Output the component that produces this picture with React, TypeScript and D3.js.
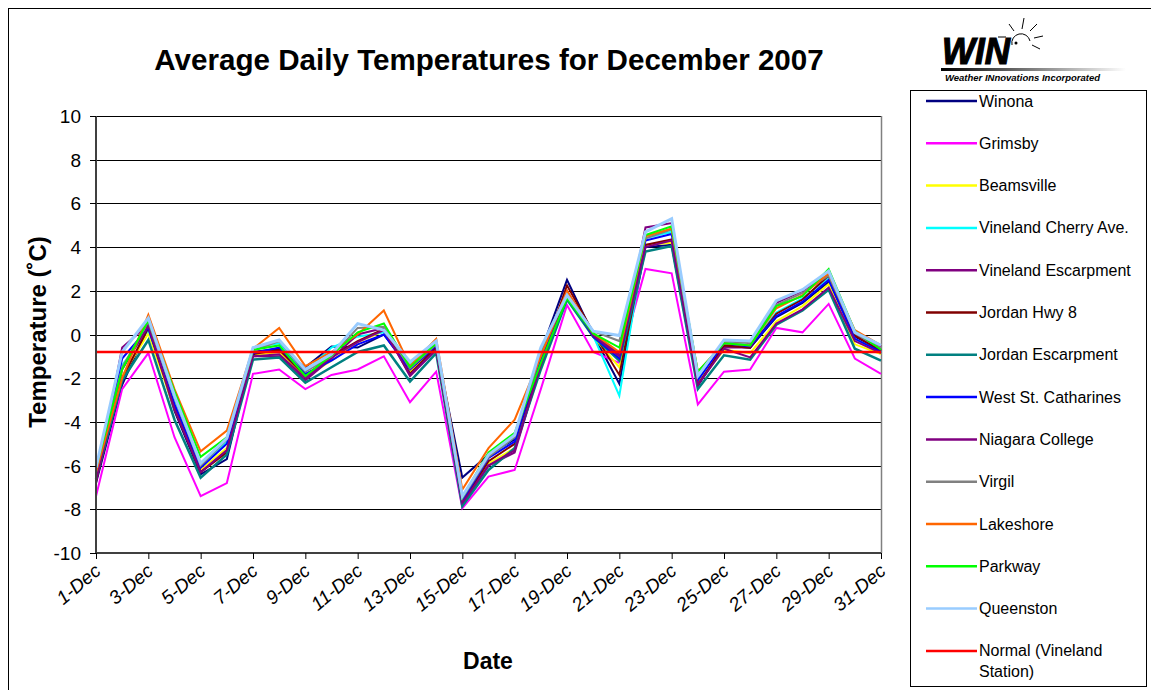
import React from "react";
import * as d3 from "d3";

const dayLabels = [
  "1-Dec","2-Dec","3-Dec","4-Dec","5-Dec","6-Dec","7-Dec","8-Dec","9-Dec","10-Dec",
  "11-Dec","12-Dec","13-Dec","14-Dec","15-Dec","16-Dec","17-Dec","18-Dec","19-Dec","20-Dec",
  "21-Dec","22-Dec","23-Dec","24-Dec","25-Dec","26-Dec","27-Dec","28-Dec","29-Dec","30-Dec","31-Dec",
];
const yTicks = [10, 8, 6, 4, 2, 0, -2, -4, -6, -8, -10];

const winona = [-6.8,-2.3,0.35,-3.5,-6.4,-5.7,-0.8,-0.65,-1.5,-0.55,-0.6,0.0,-1.6,-0.55,-6.55,-5.5,-4.8,-0.8,2.5,0.0,-2.25,4.0,4.1,-2.35,-0.5,-0.6,0.8,1.45,2.4,-0.1,-0.7];
const grimsby = [-7.4,-2.5,-0.85,-4.7,-7.4,-6.8,-1.8,-1.6,-2.5,-1.85,-1.6,-1.0,-3.1,-1.7,-7.95,-6.5,-6.2,-2.5,1.35,-0.8,-1.3,3.0,2.8,-3.2,-1.7,-1.6,0.3,0.1,1.4,-1.1,-1.8];
const beamsville = [-6.6,-1.9,0.05,-3.4,-6.2,-5.2,-0.95,-0.8,-1.95,-1.2,-0.35,0.15,-1.7,-0.65,-7.6,-5.9,-5.2,-1.4,1.7,-0.1,-1.5,4.1,4.2,-2.2,-0.7,-0.85,0.6,1.3,2.3,-0.45,-0.9];
const vinelandCherry = [-6.4,-1.4,0.2,-3.0,-6.0,-4.9,-0.6,-0.4,-1.7,-0.6,-0.1,0.1,-1.35,-0.4,-7.5,-5.6,-4.7,-0.8,1.75,-0.05,-2.8,4.4,4.7,-2.0,-0.3,-0.5,1.0,1.65,2.6,-0.2,-0.8];
const vinelandEscarpment = [-6.8,-0.6,0.45,-3.3,-6.3,-5.3,-1.0,-1.0,-2.1,-1.1,0.0,0.3,-1.9,-0.7,-7.8,-6.0,-5.4,-1.4,2.0,0.0,-0.9,4.9,5.1,-2.3,-0.6,-0.6,1.45,2.0,2.75,0.0,-0.55];
const jordanHwy8 = [-6.7,-2.0,0.3,-3.4,-6.3,-5.4,-0.9,-0.7,-1.9,-1.0,-0.3,0.25,-1.8,-0.6,-7.7,-5.8,-5.0,-1.2,2.25,0.1,-1.85,4.1,4.35,-2.3,-0.5,-0.6,0.95,1.6,2.7,-0.05,-0.75];
const jordanEscarpment = [-6.6,-2.1,-0.25,-3.9,-6.55,-5.5,-1.15,-1.05,-2.2,-1.5,-0.8,-0.5,-2.15,-0.85,-7.85,-6.2,-5.2,-1.6,1.6,-0.1,-1.2,3.8,4.05,-2.5,-0.95,-1.15,0.45,1.1,2.05,-0.65,-1.2];
const westStCatharines = [-6.5,-1.1,0.3,-3.2,-6.1,-5.0,-0.85,-0.6,-1.8,-1.2,-0.45,0.0,-1.6,-0.5,-7.6,-5.65,-4.9,-1.1,1.85,-0.1,-1.1,4.3,4.6,-2.1,-0.4,-0.55,0.85,1.5,2.5,-0.2,-0.8];
const niagaraCollege = [-6.7,-1.6,0.4,-3.4,-6.3,-5.3,-1.0,-0.9,-2.0,-1.05,-0.35,0.2,-1.85,-0.7,-7.7,-6.0,-5.3,-1.4,1.9,-0.05,-1.0,4.0,4.3,-2.3,-0.65,-1.05,0.5,1.15,2.15,-0.3,-0.85];
const virgil = [-6.3,-1.5,0.6,-2.9,-6.0,-4.8,-0.75,-0.3,-1.7,-1.0,0.3,0.35,-1.55,-0.45,-7.5,-5.6,-4.7,-0.9,1.9,0.15,-0.3,4.4,4.8,-1.9,-0.3,-0.4,1.35,1.9,2.7,0.05,-0.65];
const lakeshore = [-6.3,-2.0,0.9,-2.5,-5.35,-4.4,-0.65,0.3,-1.45,-0.8,0.0,1.1,-1.45,-0.2,-7.1,-5.2,-3.9,-1.0,2.0,0.05,-0.8,4.5,4.85,-1.7,-0.4,-0.5,1.2,1.8,2.8,0.2,-0.5];
const parkway = [-6.1,-1.6,0.65,-2.6,-5.6,-4.7,-0.7,-0.5,-1.9,-0.95,0.1,0.5,-1.5,-0.4,-7.45,-5.4,-4.5,-1.3,1.65,0.05,-0.6,4.55,4.95,-1.7,-0.4,-0.5,1.3,1.75,3.0,0.15,-0.7];
const queenston = [-6.1,-0.8,0.75,-2.8,-5.9,-4.75,-0.6,-0.25,-1.6,-0.9,0.5,0.2,-1.25,-0.3,-7.4,-5.5,-4.6,-0.6,1.8,0.15,-0.05,4.7,5.3,-1.9,-0.25,-0.3,1.55,2.05,2.9,0.1,-0.5];
const normal = [-0.8,-0.8,-0.8,-0.8,-0.8,-0.8,-0.8,-0.8,-0.8,-0.8,-0.8,-0.8,-0.8,-0.8,-0.8,-0.8,-0.8,-0.8,-0.8,-0.8,-0.8,-0.8,-0.8,-0.8,-0.8,-0.8,-0.8,-0.8,-0.8,-0.8,-0.8];

const seriesNames = [
  "Winona","Grimsby","Beamsville","Vineland Cherry Ave.","Vineland Escarpment","Jordan Hwy 8",
  "Jordan Escarpment","West St. Catharines","Niagara College","Virgil","Lakeshore","Parkway","Queenston",
  "Normal (Vineland Station)",
];
const seriesValues = [
  winona, grimsby, beamsville, vinelandCherry, vinelandEscarpment, jordanHwy8,
  jordanEscarpment, westStCatharines, niagaraCollege, virgil, lakeshore, parkway, queenston, normal,
];
const seriesColors = [
  "#000080","#FF00FF","#FFFF00","#00FFFF","#800080","#800000",
  "#008080","#0000FF","#800080","#808080","#FF6600","#00FF00","#99CCFF","#FF0000",
];
const seriesWidths = [2,2,2,2,2,2,2.5,2,2,2,2,2,3,2.5];

const FONT = "'Liberation Sans', Arial, sans-serif";

export default function App() {
  const left = 96, right = 881, top = 116, bottom = 553;
  const x = d3.scalePoint<string>().domain(dayLabels).range([left, right]);
  const y = d3.scaleLinear().domain([-10, 10]).range([bottom, top]);
  const line = d3.line<number>().x((_, i) => x(dayLabels[i]) as number).y((d) => y(d));
  const tickDays = dayLabels.filter((_, i) => i % 2 === 0);

  const legX = 910, legTop = 90, legStep = 42.3, legFirst = 101;

  return (
    <svg
      width={1151}
      height={690}
      style={{ position: "fixed", left: 0, top: 0, background: "#fff" }}
      fontFamily={FONT}
    >
      <rect x={0} y={0} width={1151} height={690} fill="#fff" />
      <rect x={8.5} y={8.5} width={1180} height={720} fill="none" stroke="#000" strokeWidth={1} />

      {/* Title */}
      <text x={489} y={70} textAnchor="middle" fontSize={29.6} fontWeight="bold">
        Average Daily Temperatures for December 2007
      </text>

      {/* gridlines */}
      {yTicks.filter((t) => t !== -10).map((t) => (
        <line key={t} x1={left} x2={right} y1={Math.round(y(t)) + 0.5} y2={Math.round(y(t)) + 0.5} stroke="#000" strokeWidth={1} />
      ))}
      <line x1={right + 0.5} x2={right + 0.5} y1={top} y2={bottom} stroke="#808080" strokeWidth={1.5} />

      {/* series */}
      {seriesValues.map((vals, i) => (
        <path key={seriesNames[i]} d={line(vals) || ""} fill="none" stroke={seriesColors[i]} strokeWidth={seriesWidths[i]} strokeLinejoin="miter" />
      ))}

      {/* axes */}
      <line x1={left} x2={left} y1={top} y2={bottom} stroke="#404040" strokeWidth={2} />
      <line x1={left} x2={right} y1={bottom} y2={bottom} stroke="#404040" strokeWidth={2} />
      {yTicks.map((t) => (
        <g key={"yt" + t}>
          <line x1={left - 6} x2={left} y1={Math.round(y(t)) + 0.5} y2={Math.round(y(t)) + 0.5} stroke="#000" />
          <text x={81} y={y(t) + 7} textAnchor="end" fontSize={19}>{t}</text>
        </g>
      ))}
      {tickDays.map((d) => (
        <g key={"xt" + d}>
          <line x1={(x(d) as number) + 0.5} x2={(x(d) as number) + 0.5} y1={bottom} y2={bottom + 6} stroke="#000" />
          <text
            transform={`translate(${(x(d) as number) + 6},${bottom + 20}) rotate(-40)`}
            textAnchor="end"
            fontSize={19}
            fontStyle="italic"
          >
            {d}
          </text>
        </g>
      ))}

      {/* axis titles */}
      <text x={488} y={669} textAnchor="middle" fontSize={23} fontWeight="bold">Date</text>
      <text transform="translate(46,332) rotate(-90)" textAnchor="middle" fontSize={24} fontWeight="bold">
        Temperature (˚C)
      </text>

      {/* Logo */}
      <g>
        <text x={942} y={64} fontSize={36} fontWeight="bold" fontStyle="italic" stroke="#000" strokeWidth={1.2} textLength={68} lengthAdjust="spacingAndGlyphs">WIN</text>
        <path d="M1012,45 A9,9 0 0 1 1030,41" fill="none" stroke="#000" strokeWidth={1} />
        <circle cx={1016} cy={43} r={1.5} fill="#000" />
        <line x1={1022} y1={29} x2={1024} y2={18} stroke="#000" />
        <line x1={1014} y1={31} x2={1009} y2={24} stroke="#000" />
        <line x1={1030} y1={31} x2={1037} y2={24} stroke="#000" />
        <line x1={1034} y1={38} x2={1043} y2={36} stroke="#000" />
        <line x1={1032} y1={45} x2={1040} y2={49} stroke="#000" />
        <line x1={1006} y1={37} x2={998} y2={37} stroke="#000" />
        <defs>
          <linearGradient id="logoGrad" x1="0" x2="1" y1="0" y2="0">
            <stop offset="0" stopColor="#000" />
            <stop offset="1" stopColor="#fff" />
          </linearGradient>
        </defs>
        <rect x={941} y={68} width={185} height={3} fill="url(#logoGrad)" />
        <text x={945} y={81} fontSize={9.5} fontWeight="bold" fontStyle="italic">Weather INnovations Incorporated</text>
      </g>

      {/* Legend */}
      <rect x={legX + 0.5} y={legTop + 0.5} width={236} height={596} fill="#fff" stroke="#000" strokeWidth={1} />
      {seriesNames.map((name, i) => {
        const ly = legFirst + i * legStep;
        const isNormal = i === seriesNames.length - 1;
        return (
          <g key={"lg" + name}>
            <line x1={926} x2={977} y1={ly} y2={ly} stroke={seriesColors[i]} strokeWidth={2.5} />
            {isNormal ? (
              <text x={979} y={ly + 5.5} fontSize={16}>
                <tspan x={979}>Normal (Vineland</tspan>
                <tspan x={979} dy={21}>Station)</tspan>
              </text>
            ) : (
              <text x={979} y={ly + 5.5} fontSize={16}>{name}</text>
            )}
          </g>
        );
      })}
    </svg>
  );
}
